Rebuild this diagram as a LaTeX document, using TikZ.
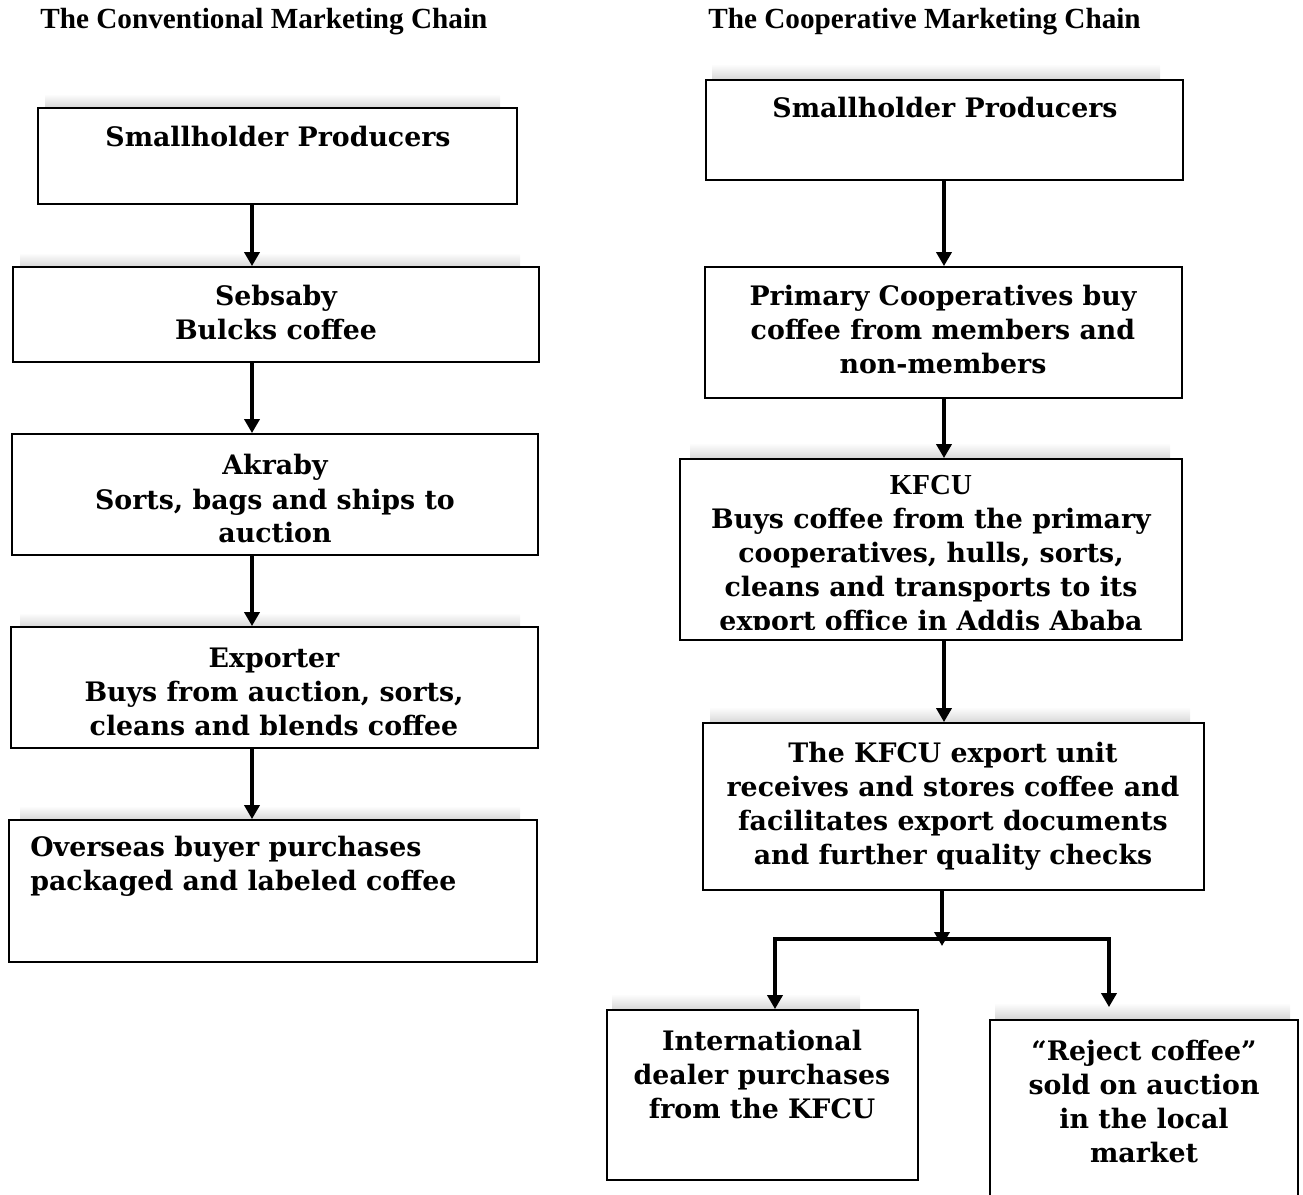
\documentclass[tikz,border=0pt]{standalone}
\usepackage{fontspec}
\setmainfont{DejaVu Serif}
\newfontfamily\timesfont{Liberation Serif}
\usetikzlibrary{arrows.meta,fit}
\definecolor{shade}{rgb}{0.84,0.84,0.84}

\begin{document}
\begin{tikzpicture}[x=0.5pt,y=-0.5pt,line join=miter,
    box/.style={draw,line width=0.9pt,inner sep=0pt,fill=white},
    txt/.style={font=\bfseries\fontsize{13.4}{17}\selectfont,align=center,inner sep=0pt},
    ttl/.style={font=\timesfont\bfseries\fontsize{14.6}{16}\selectfont,anchor=west,inner sep=0pt},
    flow/.style={line width=2pt,-{Triangle[width=7.5pt,length=7pt]}},
    haze/.style={top color=white,bottom color=shade,draw=none}]

    \useasboundingbox (0,0) rectangle (1303,1195);

    \node[ttl] (ttlconv) at (40,22) {The Conventional Marketing Chain};
    \node[ttl] (ttlcoop) at (708,22) {The Cooperative Marketing Chain};

    \fill[haze] (45,94) rectangle (500,108);
    \fill[haze] (20,253) rectangle (520,267);
    \fill[haze] (20,613) rectangle (520,627);
    \fill[haze] (20,806) rectangle (520,820);
    \fill[haze] (712,64) rectangle (1160,80);
    \fill[haze] (690,443) rectangle (1170,459);
    \fill[haze] (710,707) rectangle (1190,723);
    \fill[haze] (612,994) rectangle (860,1010);
    \fill[haze] (995,1003) rectangle (1290,1019);

    \node[box,fit={(38,108) (517,204)}] (conv1) {};
    \node[box,fit={(13,267) (539,362)}] (conv2) {};
    \node[box,fit={(12,434) (538,555)}] (conv3) {};
    \node[box,fit={(11,627) (538,748)}] (conv4) {};
    \node[box,fit={(9,820) (537,962)}] (conv5) {};

    \node[box,fit={(706,80) (1183,180)}] (coop1) {};
    \node[box,fit={(705,267) (1182,398)}] (coop2) {};
    \node[box,fit={(680,459) (1182,640)}] (coop3) {};
    \node[box,fit={(703,723) (1204,890)}] (coop4) {};
    \node[box,fit={(607,1010) (918,1180)}] (intl) {};
    \node[box,fit={(990,1020) (1298,1205)}] (reject) {};

    \node[txt] (lbl1) at (278,137) {Smallholder Producers};
    \node[txt] (lbl2) at (276,313) {Sebsaby\\Bulcks coffee};
    \node[txt] (lbl3) at (275,499) {Akraby\\Sorts, bags and ships to\\auction};
    \node[txt] (lbl4) at (274,692) {Exporter\\Buys from auction, sorts,\\cleans and blends coffee};
    \node[txt,align=left,anchor=west] (lbl5) at (30,866) {Overseas buyer purchases\\packaged and labeled coffee};

    \node[txt] (lblc1) at (945,108) {Smallholder Producers};
    \node[txt] (lblc2) at (943,330) {Primary Cooperatives buy\\coffee from members and\\non-members};
    \begin{scope}
      \clip (680,459) rectangle (1182,629);
      \node[txt] (lblc3) at (931,556) {{\timesfont\fontsize{14.5}{17}\selectfont KFCU}\\Buys coffee from the primary\\cooperatives, hulls, sorts,\\cleans and transports to its\\export office in Addis Ababa};
    \end{scope}
    \node[txt] (lblc4) at (953,806) {The KFCU export unit\\receives and stores coffee and\\facilitates export documents\\and further quality checks};
    \node[txt] (lblintl) at (762,1074) {International\\dealer purchases\\from the KFCU};
    \node[txt] (lblrej) at (1144,1101) {“Reject coffee”\\sold on auction\\in the local\\market};

    \coordinate (axL) at (252,0);
    \draw[flow] (conv1.south -| axL) -- (conv2.north -| axL);
    \draw[flow] (conv2.south -| axL) -- (conv3.north -| axL);
    \draw[flow] (conv3.south -| axL) -- (conv4.north -| axL);
    \draw[flow] (conv4.south -| axL) -- (conv5.north -| axL);

    \coordinate (axR) at (944,0);
    \draw[flow] (coop1.south -| axR) -- (coop2.north -| axR);
    \draw[flow] (coop2.south -| axR) -- (coop3.north -| axR);
    \draw[flow] (coop3.south -| axR) -- (coop4.north -| axR);

    \coordinate (split) at (942,946);
    \coordinate (axI) at (775,939);
    \coordinate (axJ) at (1109,939);
    \draw[line width=2pt,line cap=rect] (axI) -- (axJ);
    \draw[flow] (coop4.south -| split) -- (split);
    \draw[flow] (axI) -- (intl.north -| axI);
    \draw[flow,shorten >=6pt] (axJ) -- (reject.north -| axJ);
\end{tikzpicture}
\end{document}
